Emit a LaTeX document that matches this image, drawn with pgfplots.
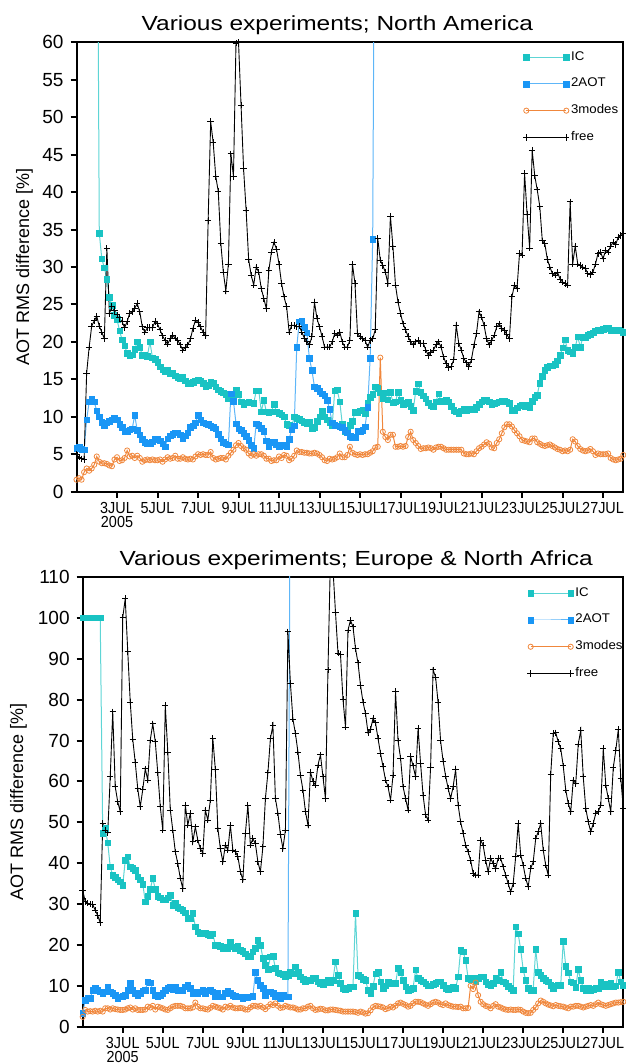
\documentclass[border=0pt]{standalone}
\usepackage{fontspec}
\setmainfont{Liberation Sans}
\newfontfamily\narrowfont[FakeStretch=0.9]{Liberation Sans}
\newfontfamily\widefont[FakeStretch=1.2]{Liberation Sans}
\newfontfamily\legfont[FakeStretch=1.05]{Liberation Sans}
\usepackage{pgfplots}
\usepackage{pgfplotstable}
\pgfplotsset{compat=1.18}

\definecolor{iccol}{RGB}{25,195,195}
\definecolor{aotcol}{RGB}{25,150,245}
\definecolor{modcol}{RGB}{240,135,60}

% North America, 3-hourly, July 2005 (day of month)
\pgfplotstableread{
t ic aot modes free
1.000 100 5.8 1.6 5.0
1.125 100 6.0 1.8 4.6
1.250 100 5.7 1.6 4.4
1.375 100 5.6 2.6 4.3
1.500 100 9.6 3.1 15.8
1.625 100 12.0 2.8 19.3
1.750 100 12.4 3.1 22.1
1.875 100 12.0 3.6 22.8
2.000 100 10.8 4.7 23.4
2.125 34.5 10.0 4.0 22.1
2.250 31.1 9.3 3.8 21.3
2.375 29.9 8.8 3.8 20.4
2.500 28.4 9.2 3.7 32.5
2.625 26.0 9.4 3.5 23.8
2.750 24.9 9.6 3.4 24.7
2.875 23.6 9.8 4.3 24.2
3.000 23.0 9.6 4.6 23.6
3.125 21.5 9.0 4.1 23.2
3.250 20.3 8.6 4.2 22.7
3.375 19.5 8.1 4.5 21.9
3.500 18.5 8.0 5.5 22.7
3.625 18.2 8.3 4.7 23.8
3.750 18.3 8.4 4.8 24.0
3.875 19.0 10.2 4.5 24.5
4.000 20.0 8.2 4.8 25.1
4.125 19.3 7.6 4.5 24.0
4.250 18.2 7.0 4.0 22.0
4.375 18.2 6.6 4.2 21.3
4.500 18.1 6.4 4.3 21.9
4.625 20.0 6.5 4.2 21.9
4.750 17.9 6.7 4.3 21.9
4.875 17.7 7.0 4.2 22.7
5.000 17.3 7.0 4.2 22.4
5.125 16.7 6.8 4.3 21.6
5.250 16.3 6.4 4.0 20.8
5.375 16.0 6.0 4.3 20.2
5.500 16.2 7.1 4.6 19.7
5.625 15.8 7.5 4.4 20.4
5.750 15.8 7.7 4.5 20.9
5.875 15.5 7.9 4.8 20.5
6.000 15.3 7.9 4.4 20.2
6.125 15.1 7.6 4.4 19.6
6.250 15.3 7.1 4.6 18.9
6.375 14.8 7.5 4.4 19.3
6.500 14.5 7.9 4.3 19.6
6.625 14.4 8.6 4.4 20.4
6.750 14.6 8.8 4.3 21.8
6.875 14.8 9.2 4.7 22.9
7.000 14.9 10.2 5.0 22.6
7.125 14.8 9.6 4.9 22.0
7.250 14.5 9.2 5.0 21.3
7.375 14.1 9.1 4.9 20.8
7.500 14.2 9.0 4.9 36.2
7.625 14.6 8.8 5.3 49.4
7.750 14.5 8.6 4.5 46.6
7.875 14.0 8.4 4.3 42.1
8.000 13.6 7.7 4.4 40.1
8.125 13.4 7.1 4.5 33.2
8.250 13.2 6.6 4.5 29.3
8.375 13.0 6.4 4.3 26.8
8.500 12.4 6.3 4.8 30.4
8.625 12.9 13.1 5.2 45.1
8.750 13.0 12.1 5.6 42.1
8.875 13.6 9.1 6.2 59.9
9.000 13.0 8.4 6.5 60.0
9.125 12.0 8.2 6.1 51.6
9.250 11.6 7.8 5.8 43.1
9.375 11.9 7.4 5.6 37.6
9.500 12.0 6.9 5.1 31.0
9.625 11.9 6.2 4.8 28.9
9.750 11.8 5.8 5.0 27.6
9.875 13.5 9.1 4.8 30.0
10.000 13.5 8.9 5.0 29.3
10.125 10.7 8.5 5.0 27.1
10.250 12.2 8.1 4.8 25.8
10.375 10.7 6.8 4.4 24.4
10.500 10.6 6.1 4.4 29.6
10.625 10.7 6.6 4.1 32.0
10.750 11.7 6.6 4.2 33.3
10.875 10.7 6.3 4.2 32.4
11.000 10.5 6.0 4.7 30.4
11.125 10.3 6.2 4.5 27.8
11.250 10.0 6.3 4.9 26.0
11.375 9.0 6.1 4.8 24.7
11.500 8.9 7.0 4.2 21.3
11.625 8.7 8.3 4.4 22.2
11.750 10.0 8.8 4.8 22.2
11.875 9.8 19.3 5.5 22.0
12.000 9.7 22.7 5.3 22.1
12.125 9.5 22.8 5.3 21.3
12.250 9.3 22.0 5.2 20.5
12.375 9.1 21.2 5.2 20.0
12.500 9.3 17.8 5.1 19.6
12.625 8.5 16.2 5.1 20.7
12.750 8.6 14.0 5.2 25.3
12.875 9.4 13.8 5.1 23.1
13.000 10.0 13.4 4.9 22.0
13.125 10.8 13.1 4.6 20.7
13.250 10.0 12.8 4.2 19.3
13.375 9.6 12.2 4.1 19.3
13.500 9.2 11.0 4.4 19.3
13.625 8.8 9.2 4.3 20.0
13.750 13.5 8.9 4.4 21.1
13.875 13.6 8.8 4.6 20.9
14.000 12.0 8.7 5.1 21.3
14.125 9.0 8.6 4.6 20.0
14.250 8.0 8.2 4.6 19.3
14.375 8.3 7.9 4.9 19.3
14.500 8.9 7.4 6.0 20.2
14.625 9.4 7.2 5.2 30.4
14.750 10.6 7.3 5.0 27.8
14.875 10.6 8.1 4.9 21.1
15.000 10.8 8.1 5.0 20.7
15.125 10.9 8.2 4.9 20.4
15.250 10.5 8.7 5.0 20.2
15.375 11.9 11.3 5.0 19.3
15.500 12.6 17.8 5.2 20.2
15.625 13.0 33.7 5.4 20.4
15.750 14.0 100 5.9 21.6
15.875 13.8 nan 6.0 33.8
16.000 13.2 nan 17.9 30.9
16.125 12.5 nan 8.0 30.2
16.250 13.2 nan 7.3 29.3
16.375 12.3 nan 6.9 27.8
16.500 13.3 nan 7.6 36.8
16.625 11.9 nan 7.6 32.7
16.750 12.0 nan 6.0 27.6
16.875 13.3 nan 6.0 25.3
17.000 12.2 nan 6.1 23.8
17.125 11.7 nan 6.0 22.4
17.250 11.8 nan 6.1 21.6
17.375 12.0 nan 7.3 20.7
17.500 11.4 nan 8.0 20.0
17.625 10.9 nan 6.9 19.6
17.750 13.4 nan 6.5 20.0
17.875 14.4 nan 6.1 20.2
18.000 13.3 nan 5.7 19.8
18.125 12.8 nan 5.8 19.8
18.250 12.4 nan 5.8 18.9
18.375 11.9 nan 5.9 18.2
18.500 11.5 nan 5.8 18.6
18.625 11.4 nan 5.6 18.9
18.750 12.0 nan 5.9 19.6
18.875 13.1 nan 6.0 20.0
19.000 12.1 nan 6.0 19.3
19.125 12.1 nan 5.8 18.0
19.250 12.3 nan 5.6 17.1
19.375 12.0 nan 5.6 16.6
19.500 11.4 nan 5.6 16.7
19.625 10.9 nan 5.6 17.6
19.750 10.7 nan 5.6 22.2
19.875 10.4 nan 5.6 19.8
20.000 10.8 nan 5.6 18.9
20.125 11.0 nan 5.1 17.8
20.250 10.9 nan 5.0 17.2
20.375 11.0 nan 5.0 16.7
20.500 11.0 nan 5.1 17.6
20.625 11.0 nan 5.0 19.6
20.750 11.3 nan 5.4 21.1
20.875 11.7 nan 5.8 24.0
21.000 12.0 nan 6.0 23.3
21.125 12.2 nan 6.3 22.2
21.250 12.2 nan 6.6 20.4
21.375 12.0 nan 6.4 19.6
21.500 11.6 nan 5.9 20.2
21.625 11.8 nan 5.8 20.9
21.750 11.9 nan 6.5 22.0
21.875 12.0 nan 7.0 22.4
22.000 12.1 nan 7.8 21.8
22.125 12.1 nan 8.6 21.5
22.250 12.0 nan 9.0 21.0
22.375 11.8 nan 9.0 20.4
22.500 10.9 nan 8.7 26.0
22.625 10.9 nan 8.2 27.6
22.750 11.2 nan 7.8 27.1
22.875 11.5 nan 7.4 31.8
23.000 11.6 nan 6.9 31.6
23.125 11.4 nan 6.8 42.5
23.250 11.6 nan 6.7 37.0
23.375 11.3 nan 6.6 32.5
23.500 12.1 nan 7.1 45.6
23.625 12.6 nan 7.1 42.2
23.750 12.9 nan 6.6 40.3
23.875 14.5 nan 6.4 38.1
24.000 15.4 nan 6.2 33.5
24.125 16.2 nan 6.1 33.1
24.250 16.6 nan 6.2 31.0
24.375 16.8 nan 6.3 30.0
24.500 16.8 nan 6.1 29.1
24.625 17.0 nan 5.9 28.9
24.750 17.5 nan 5.7 29.3
24.875 18.2 nan 5.6 28.4
25.000 19.2 nan 5.4 28.0
25.125 20.3 nan 5.5 27.8
25.250 18.9 nan 5.4 27.6
25.375 18.7 nan 5.6 38.7
25.500 18.4 nan 7.0 30.4
25.625 19.3 nan 6.7 32.8
25.750 20.7 nan 6.1 30.4
25.875 19.3 nan 5.7 30.2
26.000 20.6 nan 5.5 30.0
26.125 20.6 nan 5.4 29.8
26.250 20.9 nan 5.5 29.1
26.375 21.0 nan 5.7 29.0
26.500 21.2 nan 5.4 29.3
26.625 21.5 nan 4.9 30.4
26.750 21.6 nan 5.1 31.8
26.875 21.6 nan 5.0 32.0
27.000 21.7 nan 5.0 31.1
27.125 21.8 nan 5.0 32.2
27.250 21.9 nan 5.1 32.0
27.375 21.6 nan 4.5 32.8
27.500 21.6 nan 4.3 33.3
27.625 21.6 nan 4.2 33.0
27.750 21.6 nan 4.3 34.0
27.875 21.5 nan 4.4 34.2
28.000 21.3 nan 4.9 34.5
}\natab

% Europe & North Africa
\pgfplotstableread{
t ic aot modes free
1.000 100 3.3 2.4 33.4
1.125 100 6.5 4.1 30.6
1.250 100 6.9 3.7 30.2
1.375 100 6.9 3.8 30.0
1.500 100 9.0 3.7 29.9
1.625 100 9.4 3.9 28.5
1.750 100 9.0 3.7 27.2
1.875 100 8.6 3.9 25.4
2.000 47.3 8.2 3.7 49.7
2.125 48.5 8.6 4.5 48.1
2.250 45.0 9.8 4.5 47.4
2.375 39.1 8.6 4.2 61.1
2.500 37.0 8.2 4.5 77.0
2.625 36.5 7.7 4.3 58.7
2.750 36.0 7.0 4.2 55.0
2.875 35.5 7.3 4.1 52.6
3.000 34.6 7.5 4.1 100.1
3.125 40.7 7.7 4.2 104.7
3.250 41.6 9.0 4.5 91.8
3.375 39.1 10.6 4.7 79.4
3.500 38.7 9.0 4.2 70.3
3.625 38.3 8.2 4.5 64.6
3.750 36.7 7.7 4.1 58.2
3.875 36.0 8.2 4.1 53.8
4.000 34.9 8.8 4.1 58.0
4.125 30.6 9.0 4.2 63.1
4.250 31.9 11.0 4.9 60.3
4.375 33.6 10.8 4.7 70.1
4.500 36.3 9.0 5.1 74.1
4.625 33.6 7.7 4.2 69.7
4.750 31.9 7.3 4.9 62.1
4.875 31.6 7.7 4.7 53.8
5.000 31.1 8.2 4.5 48.1
5.125 31.1 9.0 4.2 78.6
5.250 31.6 9.4 4.1 67.2
5.375 32.2 9.8 4.5 53.0
5.500 29.7 9.1 4.9 48.1
5.625 30.2 9.8 5.1 42.8
5.750 29.3 9.0 5.1 39.9
5.875 28.9 9.0 5.1 36.3
6.000 28.5 8.8 4.9 33.8
6.125 27.9 9.8 4.5 54.2
6.250 26.5 10.2 4.5 49.3
6.375 26.5 9.4 4.5 52.2
6.500 27.7 8.2 4.7 45.2
6.625 24.5 8.6 5.9 48.9
6.750 23.2 8.2 4.9 45.6
6.875 22.8 8.6 4.5 43.6
7.000 22.7 9.0 4.5 42.4
7.125 22.8 8.2 4.3 53.0
7.250 22.6 8.8 4.2 50.5
7.375 22.4 9.0 4.6 55.4
7.500 22.7 8.6 5.1 70.5
7.625 20.0 7.5 4.9 62.9
7.750 20.0 8.3 4.7 48.5
7.875 19.7 7.3 4.5 43.6
8.000 19.2 7.3 4.2 40.3
8.125 19.6 8.2 4.9 44.4
8.250 19.2 8.8 4.7 43.2
8.375 20.8 8.2 5.1 49.3
8.500 19.6 7.7 4.7 43.2
8.625 19.2 7.5 4.5 42.8
8.750 19.7 7.3 4.5 41.6
8.875 18.7 7.3 4.6 37.9
9.000 18.5 6.9 4.5 35.9
9.125 17.9 7.3 4.2 47.3
9.250 17.3 7.2 4.2 54.2
9.375 17.1 7.3 4.7 44.4
9.500 18.3 7.4 5.1 46.0
9.625 19.2 13.4 5.1 44.8
9.750 21.2 11.4 4.9 40.3
9.875 20.0 10.2 5.1 37.9
10.000 16.8 9.4 4.7 44.0
10.125 15.0 7.7 4.3 55.8
10.250 14.0 8.6 4.9 62.1
10.375 17.1 8.6 5.5 70.5
10.500 17.3 8.2 5.3 73.7
10.625 14.3 7.3 5.7 55.8
10.750 13.2 7.7 5.1 52.2
10.875 13.0 6.9 4.6 47.0
11.000 12.8 7.7 4.7 43.6
11.125 12.2 7.3 5.1 48.1
11.250 12.6 7.3 4.9 96.6
11.375 13.4 150 4.7 83.9
11.500 13.0 nan 4.7 75.2
11.625 14.7 nan 4.5 71.7
11.750 13.4 nan 4.2 67.2
11.875 12.2 nan 4.2 61.5
12.000 11.6 nan 4.5 57.9
12.125 11.0 nan 4.5 52.6
12.250 11.4 nan 4.9 49.3
12.375 11.4 nan 5.1 62.3
12.500 11.8 nan 4.5 60.0
12.625 11.8 nan 4.1 59.1
12.750 11.0 nan 4.2 64.0
12.875 10.6 nan 4.4 66.5
13.000 10.4 nan 4.3 61.1
13.125 11.0 nan 4.0 55.8
13.250 11.4 nan 4.0 87.3
13.375 10.8 nan 4.2 115
13.500 11.4 nan 4.2 112
13.625 15.9 nan 4.1 101.4
13.750 12.6 nan 4.0 91.4
13.875 10.6 nan 3.9 91.1
14.000 9.4 nan 3.7 80.0
14.125 9.1 nan 3.7 73.3
14.250 9.4 nan 3.7 97.0
14.375 9.8 nan 3.7 99.4
14.500 9.8 nan 3.7 97.8
14.625 27.7 nan 3.6 92.5
14.750 12.6 nan 3.4 89.0
14.875 12.2 nan 3.7 83.5
15.000 11.6 nan 3.5 79.4
15.125 11.4 nan 3.2 76.6
15.250 9.0 nan 3.3 71.9
15.375 8.2 nan 4.0 72.7
15.500 9.9 nan 4.8 75.4
15.625 13.0 nan 5.1 74.3
15.750 13.4 nan 5.0 70.5
15.875 11.0 nan 4.9 66.8
16.000 9.4 nan 4.7 63.6
16.125 10.0 nan 4.3 60.3
16.250 11.0 nan 4.5 58.7
16.375 10.7 nan 4.9 55.4
16.500 10.8 nan 4.7 61.5
16.625 10.6 nan 5.1 82.0
16.750 14.3 nan 5.7 69.9
16.875 13.4 nan 5.9 65.7
17.000 11.4 nan 5.6 58.7
17.125 9.8 nan 5.3 55.8
17.250 9.0 nan 4.9 53.0
17.375 9.1 nan 5.1 66.1
17.500 9.4 nan 5.7 63.8
17.625 13.9 nan 6.1 61.1
17.750 11.8 nan 6.1 72.9
17.875 11.4 nan 6.0 64.4
18.000 11.0 nan 5.7 56.6
18.125 10.5 nan 5.4 51.8
18.250 10.0 nan 5.1 50.5
18.375 10.0 nan 5.5 63.5
18.500 10.4 nan 5.9 87.3
18.625 10.6 nan 6.1 85.5
18.750 11.0 nan 5.9 79.3
18.875 11.0 nan 5.5 69.9
19.000 10.2 nan 5.3 65.0
19.125 9.4 nan 5.7 61.3
19.250 9.1 nan 5.3 58.3
19.375 9.4 nan 5.1 55.8
19.500 9.8 nan 4.9 58.7
19.625 9.4 nan 4.9 62.9
19.750 12.2 nan 4.8 54.2
19.875 18.7 nan 4.9 50.1
20.000 18.3 nan 4.5 47.3
20.125 16.3 nan 4.5 44.4
20.250 11.8 nan 4.6 42.8
20.375 11.6 nan 10.0 40.7
20.500 12.0 nan 9.2 37.5
20.625 11.0 nan 10.8 37.1
20.750 11.8 nan 7.7 37.1
20.875 12.2 nan 6.1 45.6
21.000 12.2 nan 5.5 44.4
21.125 11.0 nan 5.1 40.7
21.250 10.4 nan 4.9 37.9
21.375 10.2 nan 4.5 41.2
21.500 10.6 nan 5.1 39.9
21.625 11.8 nan 5.5 38.7
21.750 11.4 nan 4.9 41.2
21.875 13.4 nan 4.7 41.2
22.000 11.0 nan 4.4 39.1
22.125 10.6 nan 4.2 37.1
22.250 9.9 nan 4.1 35.0
22.375 9.4 nan 4.2 33.0
22.500 9.0 nan 4.1 35.0
22.625 24.5 nan 4.1 41.6
22.750 22.7 nan 4.2 49.7
22.875 18.9 nan 4.1 42.0
23.000 13.9 nan 3.7 39.5
23.125 11.4 nan 3.4 36.3
23.250 9.4 nan 3.3 34.2
23.375 9.0 nan 3.4 38.7
23.500 9.0 nan 4.1 40.3
23.625 18.9 nan 4.7 46.0
23.750 13.4 nan 5.7 47.7
23.875 12.6 nan 6.4 49.7
24.000 11.8 nan 6.1 43.2
24.125 11.4 nan 5.7 39.5
24.250 11.0 nan 5.4 37.1
24.375 10.2 nan 5.2 61.7
24.500 9.4 nan 5.0 71.7
24.625 10.0 nan 5.3 71.9
24.750 10.2 nan 5.1 69.7
24.875 10.2 nan 5.0 68.0
25.000 20.9 nan 4.9 63.8
25.125 14.8 nan 4.7 57.9
25.250 13.2 nan 4.5 54.6
25.375 11.0 nan 4.9 52.6
25.500 10.8 nan 4.9 60.3
25.625 9.6 nan 5.1 59.5
25.750 14.0 nan 5.1 69.1
25.875 11.4 nan 4.9 72.5
26.000 9.4 nan 4.7 61.1
26.125 9.0 nan 4.9 53.4
26.250 9.4 nan 5.1 50.1
26.375 9.0 nan 5.3 47.7
26.500 9.1 nan 5.1 49.7
26.625 9.4 nan 5.5 52.2
26.750 9.4 nan 5.9 52.6
26.875 11.0 nan 5.5 54.2
27.000 9.9 nan 5.3 68.0
27.125 10.4 nan 5.1 59.1
27.250 9.8 nan 5.3 55.8
27.375 10.6 nan 5.5 52.6
27.500 9.8 nan 5.7 63.4
27.625 10.0 nan 5.9 67.6
27.750 13.4 nan 5.9 72.7
27.875 11.0 nan 6.0 60.7
28.000 10.2 nan 6.1 53.5
}\eutab

\pgfplotsset{
  panel/.style={
    scale only axis,
    xmin=1, xmax=28, ymin=0,
    xtick={3,5,...,27},
    xticklabels={{3JUL\\2005},5JUL,7JUL,9JUL,11JUL,13JUL,15JUL,17JUL,19JUL,21JUL,23JUL,25JUL,27JUL},
    xticklabel style={font=\narrowfont\fontsize{8}{7.2}\selectfont, align=center,
      anchor=north, inner sep=0pt, yshift=-2.0pt},
    yticklabel style={font=\fontsize{9.5}{10}\selectfont},
    /pgf/number format/assume math mode=true,
    tick align=outside,
    xtick pos=left, ytick pos=left,
    major tick length=3pt,
    major tick style={black, line width=1pt},
    axis line style={line width=1pt},
    ylabel={AOT RMS difference [\%]},
    ylabel style={font=\fontsize{9}{10}\selectfont},
    title style={font=\widefont\fontsize{10.2}{12}\selectfont, anchor=base},
    legend style={draw=none, fill=none, font=\legfont\fontsize{6.3}{7}\selectfont,
      legend cell align=left, row sep=5.4pt, inner sep=0pt, anchor=north west,
      nodes={inner xsep=0.8pt, inner ysep=1pt}},
    legend image code/.code={\draw[mark repeat=2,mark phase=1,##1]
      plot coordinates {(0pt,0pt) (10pt,0pt) (20pt,0pt)};},
  },
  icplot/.style={iccol!70!white, line width=0.5pt, mark=square*, mark size=1.4pt,
    mark options={fill=iccol, draw=iccol, line width=0.2pt}},
  aotplot/.style={aotcol!70!white, line width=0.5pt, mark=square*, mark size=1.4pt,
    mark options={fill=aotcol, draw=aotcol, line width=0.2pt}},
  modplot/.style={modcol, line width=0.5pt, mark=o, mark size=1.3pt,
    mark options={draw=modcol, line width=0.4pt}},
  freeplot/.style={black, line width=0.45pt, mark=+, mark size=1.6pt,
    mark options={line width=0.45pt}},
}

\begin{document}
\begin{tikzpicture}
\useasboundingbox (0,0) rectangle (312.5pt,531.5pt);

\begin{axis}[panel,
  at={(38.25pt,285.65pt)}, anchor=south west,
  width=273.4pt, height=224.7pt,
  ymax=60, ytick={0,5,...,60},
  title={Various experiments; North America},
  title style={at={(0.477,1)}, yshift=-0.3pt},
  ylabel style={at={(axis description cs:-0.095,0.5)}, anchor=center},
  legend style={at={(0.816,0.985)}},
]
\addplot[icplot] table[x=t, y=ic] {\natab};
\addplot[aotplot] table[x=t, y=aot] {\natab};
\addplot[modplot] table[x=t, y=modes] {\natab};
\addplot[freeplot] table[x=t, y=free] {\natab};
\legend{IC, 2AOT, 3modes, free}
\end{axis}

\begin{axis}[panel,
  at={(41.35pt,18.15pt)}, anchor=south west,
  width=270.3pt, height=224.85pt,
  ymax=110, ytick={0,10,...,110},
  title={Various experiments; Europe \& North Africa},
  title style={at={(0.506,1)}, yshift=-0.5pt},
  ylabel style={at={(axis description cs:-0.119,0.5)}, anchor=center},
  legend style={at={(0.822,0.982)}},
]
\addplot[icplot] table[x=t, y=ic] {\eutab};
\addplot[aotplot] table[x=t, y=aot] {\eutab};
\addplot[modplot] table[x=t, y=modes] {\eutab};
\addplot[freeplot] table[x=t, y=free] {\eutab};
\legend{IC, 2AOT, 3modes, free}
\end{axis}
\end{tikzpicture}
\end{document}
